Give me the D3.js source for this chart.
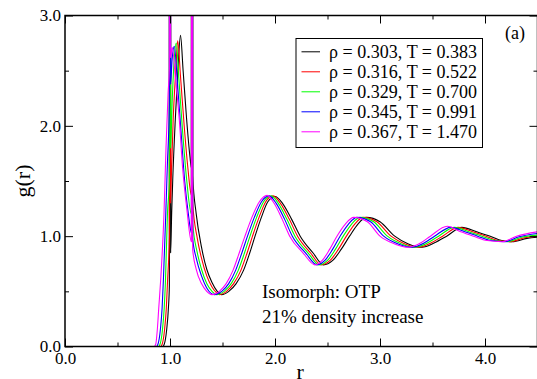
<!DOCTYPE html>
<html>
<head>
<meta charset="utf-8">
<script src="https://cdn.jsdelivr.net/npm/d3@7/dist/d3.min.js"></script>
<style>
  body { margin: 0; background: white; }
  svg { display: block; font-family: "Liberation Serif", "Times New Roman", serif; }
  .axis text { font-size: 17px; fill: black; font-family: "Liberation Serif", serif; }
  .axis line { stroke: black; stroke-width: 1; }
</style>
</head>
<body>
<div id="chart"></div>
<script>
// legend entries
const rhoLabels = ["0.303", "0.316", "0.329", "0.345", "0.367"];
const tempLabels = ["0.383", "0.522", "0.700", "0.991", "1.470"];
const seriesColors = ["black", "red", "#00ff00", "blue", "magenta"];

const xMajor = [0, 1, 2, 3, 4];
const xMinor = [0.5, 1.5, 2.5, 3.5, 4.5];
const yMajor = [0, 1, 2, 3];
const yMinor = [0.5, 1.5, 2.5];

// g(r), [r, g]; the 30s are the intramolecular bond spikes
const gBlack = [[0.85,0],[0.93,0],[0.945,0.02],[0.968,0.15],[0.985,0.35],[0.994,0.55],[1.0,30],[1.006,0.85],[1.016,1.21],[1.026,1.51],[1.05,2.05],[1.075,2.5],[1.10,2.82],[1.125,2.5],[1.159,2.05],[1.19,1.72],[1.204,1.62],[1.21,30],[1.216,1.55],[1.25,1.2],[1.30,0.9],[1.35,0.7],[1.40,0.58],[1.45,0.5],[1.49,0.47],
  [1.56,0.5],[1.63,0.57],[1.70,0.69],[1.76,0.85],[1.81,1.0],[1.87,1.17],[1.93,1.31],[2.00,1.36],[2.07,1.3],[2.16,1.15],[2.24,1.0],[2.365,0.845],[2.46,0.74],[2.55,0.78],[2.63,0.88],[2.71,1.0],[2.79,1.11],[2.87,1.17],[3.00,1.13],[3.14,1.0],[3.27,0.93],[3.40,0.9],[3.52,0.94],[3.635,1.0],[3.78,1.08],[3.92,1.04],[4.05,1.0],[4.16,0.96],[4.26,0.95],[4.40,0.98],[4.5,0.99]];
const gRed = [[0.85,0],[0.91,0],[0.925,0.02],[0.948,0.15],[0.965,0.35],[0.977,0.6],[0.994,1.0],[1.0,30],[1.006,1.3],[1.012,1.51],[1.03,2.05],[1.055,2.5],[1.073,2.77],[1.10,2.45],[1.135,2.0],[1.17,1.62],[1.204,1.37],[1.21,30],[1.216,1.3],[1.26,0.98],[1.30,0.8],[1.35,0.64],[1.40,0.54],[1.44,0.49],[1.468,0.47],
  [1.538,0.5],[1.606,0.57],[1.675,0.69],[1.735,0.85],[1.786,1.0],[1.848,1.17],[1.91,1.31],[1.981,1.365],[2.05,1.3],[2.138,1.15],[2.215,1.0],[2.341,0.845],[2.44,0.74],[2.525,0.78],[2.603,0.88],[2.68,1.0],[2.76,1.11],[2.84,1.17],[2.97,1.13],[3.105,1.0],[3.238,0.93],[3.368,0.9],[3.488,0.94],[3.596,1.0],[3.745,1.08],[3.883,1.04],[4.01,1.0],[4.125,0.96],[4.235,0.95],[4.375,0.985],[4.5,1.0]];
const gGreen = [[0.85,0],[0.89,0],[0.905,0.02],[0.928,0.15],[0.945,0.35],[0.957,0.6],[0.976,1.21],[0.994,1.5],[1.0,30],[1.006,1.8],[1.02,2.2],[1.04,2.6],[1.06,2.75],[1.085,2.42],[1.12,1.95],[1.16,1.5],[1.204,1.2],[1.21,30],[1.216,1.12],[1.26,0.85],[1.30,0.7],[1.35,0.57],[1.40,0.5],[1.445,0.47],
  [1.515,0.5],[1.583,0.57],[1.65,0.69],[1.71,0.85],[1.762,1.0],[1.825,1.17],[1.89,1.31],[1.963,1.365],[2.03,1.3],[2.115,1.15],[2.19,1.0],[2.318,0.845],[2.42,0.74],[2.50,0.78],[2.575,0.88],[2.65,1.0],[2.73,1.11],[2.81,1.17],[2.94,1.13],[3.07,1.0],[3.205,0.93],[3.335,0.9],[3.455,0.94],[3.558,1.0],[3.71,1.08],[3.845,1.04],[3.97,1.0],[4.09,0.96],[4.21,0.95],[4.35,0.99],[4.5,1.01]];
const gBlue = [[0.85,0],[0.87,0],[0.885,0.02],[0.908,0.15],[0.925,0.35],[0.937,0.6],[0.96,1.21],[0.975,1.65],[0.994,2.2],[1.0,30],[1.006,2.38],[1.02,2.6],[1.041,2.72],[1.07,2.4],[1.105,1.95],[1.14,1.5],[1.175,1.2],[1.204,1.03],[1.21,30],[1.216,0.98],[1.25,0.8],[1.30,0.64],[1.35,0.53],[1.423,0.47],
  [1.493,0.5],[1.559,0.57],[1.625,0.69],[1.685,0.85],[1.738,1.0],[1.803,1.17],[1.87,1.31],[1.944,1.365],[2.01,1.3],[2.093,1.15],[2.165,1.0],[2.294,0.845],[2.40,0.74],[2.475,0.78],[2.548,0.88],[2.62,1.0],[2.70,1.11],[2.78,1.17],[2.91,1.13],[3.035,1.0],[3.173,0.93],[3.303,0.9],[3.423,0.94],[3.519,1.0],[3.675,1.08],[3.808,1.04],[3.93,1.0],[4.055,0.96],[4.185,0.95],[4.325,0.995],[4.5,1.025]];
const gMagenta = [[0.8,0],[0.85,0],[0.864,0.02],[0.879,0.15],[0.893,0.35],[0.911,0.6],[0.943,1.21],[0.962,1.8],[0.982,2.3],[0.994,2.52],[1.0,30],[1.006,2.62],[1.022,2.71],[1.05,2.45],[1.089,2.05],[1.12,1.62],[1.16,1.25],[1.204,0.95],[1.21,30],[1.216,0.88],[1.25,0.7],[1.30,0.57],[1.35,0.5],[1.40,0.47],
  [1.47,0.5],[1.535,0.57],[1.60,0.69],[1.66,0.85],[1.714,1.0],[1.78,1.17],[1.85,1.31],[1.925,1.37],[1.99,1.3],[2.07,1.15],[2.14,1.0],[2.27,0.845],[2.38,0.74],[2.45,0.78],[2.52,0.88],[2.59,1.0],[2.67,1.11],[2.75,1.17],[2.88,1.13],[3.0,1.0],[3.14,0.93],[3.27,0.9],[3.39,0.94],[3.48,1.0],[3.64,1.09],[3.77,1.04],[3.89,1.0],[4.02,0.96],[4.16,0.95],[4.30,1.0],[4.5,1.04]];

const allSeries = [gBlack, gRed, gGreen, gBlue, gMagenta];

let margin = { top: 15.5, right: 0, bottom: 32.5, left: 65 };
let width = 472.5;
let height = 331;

let svg = d3.select("#chart").append("svg")
    .attr("width", 537)
    .attr("height", 379);

svg.append("defs")
    .append("clipPath")
    .attr("id", "clip")
    .append("rect")
    .attr("width", width)
    .attr("height", height);

let g = svg.append("g")
    .attr("transform", `translate(${margin.left}, ${margin.top})`);

let x = d3.scaleLinear().domain([0, 4.5]).range([0, width]);
let y = d3.scaleLinear().domain([0, 3]).range([height, 0]);

let line = d3.line()
    .curve(d3.curveMonotoneX)
    .x(d => x(d[0]))
    .y(d => y(d[1]));

g.append("g")
    .attr("clip-path", "url(#clip)")
    .selectAll("path")
    .data(allSeries)
  .enter().append("path")
    .attr("fill", "none")
    .attr("stroke", (d, i) => seriesColors[i])
    .attr("stroke-width", 1.1)
    .attr("stroke-linejoin", "round")
    .attr("d", line);

// ticks point inward on all four sides
let fmt = d3.format(".1f");
g.append("g").attr("class", "axis")
    .attr("transform", `translate(0, ${height})`)
    .call(d3.axisBottom(x).tickValues(xMajor).tickFormat(fmt).tickSize(-8).tickPadding(5.5));
g.append("g").attr("class", "axis")
    .attr("transform", `translate(0, ${height})`)
    .call(d3.axisBottom(x).tickValues(xMinor).tickFormat("").tickSize(-4));
g.append("g").attr("class", "axis")
    .call(d3.axisTop(x).tickValues(xMajor).tickFormat("").tickSize(-8));
g.append("g").attr("class", "axis")
    .call(d3.axisTop(x).tickValues(xMinor).tickFormat("").tickSize(-4));
g.append("g").attr("class", "axis")
    .call(d3.axisLeft(y).tickValues(yMajor).tickFormat(fmt).tickSize(-8).tickPadding(4));
g.append("g").attr("class", "axis")
    .call(d3.axisLeft(y).tickValues(yMinor).tickFormat("").tickSize(-4));
g.append("g").attr("class", "axis")
    .attr("transform", `translate(${width}, 0)`)
    .call(d3.axisRight(y).tickValues(yMajor).tickFormat("").tickSize(-8));
g.append("g").attr("class", "axis")
    .attr("transform", `translate(${width}, 0)`)
    .call(d3.axisRight(y).tickValues(yMinor).tickFormat("").tickSize(-4));
g.selectAll(".axis .domain").remove();

g.append("rect")
    .attr("width", width)
    .attr("height", height)
    .attr("fill", "none")
    .attr("stroke", "black")
    .attr("stroke-width", 1.5);

// axis titles
svg.append("text")
    .attr("x", margin.left + width / 2 - 1)
    .attr("y", 379)
    .attr("text-anchor", "middle")
    .style("font-size", "22px")
    .text("r");
svg.append("text")
    .attr("transform", `translate(30, ${margin.top + height / 2}) rotate(-90)`)
    .attr("text-anchor", "middle")
    .style("font-size", "22px")
    .text("g(r)");

// legend
let legend = svg.append("g").attr("transform", "translate(296, 38.5)");
legend.append("rect")
    .attr("width", 186.5)
    .attr("height", 109)
    .attr("fill", "white")
    .attr("stroke", "black")
    .attr("stroke-width", 1);
let rows = legend.selectAll(".row")
    .data(rhoLabels)
  .enter().append("g")
    .attr("class", "row")
    .attr("transform", (d, i) => `translate(0, ${13.3 + i * 20})`);
rows.append("line")
    .attr("x1", 5.5).attr("x2", 24)
    .attr("stroke", (d, i) => seriesColors[i])
    .attr("stroke-width", 1);
rows.append("text")
    .attr("x", 33)
    .attr("dy", "0.35em")
    .style("font-size", "18px")
    .text((d, i) => `ρ = ${d}, T = ${tempLabels[i]}`);

svg.append("text")
    .attr("x", 505)
    .attr("y", 39)
    .style("font-size", "18px")
    .text("(a)");

svg.append("text")
    .attr("x", 262)
    .attr("y", 298)
    .style("font-size", "19px")
    .text("Isomorph: OTP");
svg.append("text")
    .attr("x", 262)
    .attr("y", 323)
    .style("font-size", "19px")
    .text("21% density increase");
</script>
</body>
</html>
